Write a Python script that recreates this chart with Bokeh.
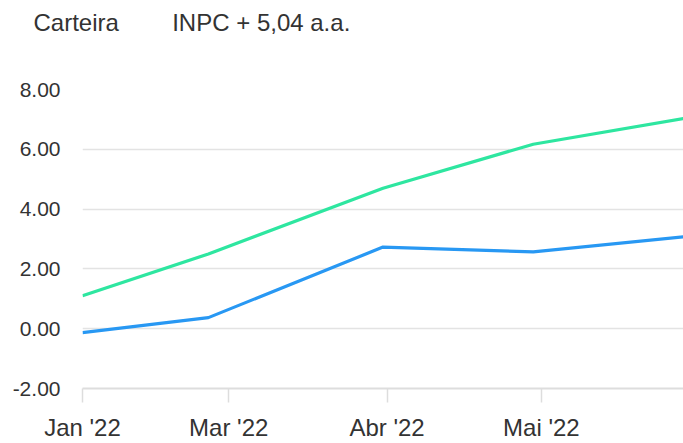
from bokeh.plotting import figure
from bokeh.models import Range1d, FixedTicker, NumeralTickFormatter, Title
from bokeh.embed import file_html
from bokeh.resources import INLINE

# Data (x: days since start of series)
dias = [0, 31, 74, 111, 148]
carteira = [-0.13, 0.37, 2.73, 2.57, 3.07]
inpc = [1.10, 2.50, 4.70, 6.17, 7.03]

x_tick_pos = [0, 36, 75, 113]
x_tick_labels = ["Jan '22", "Mar '22", "Abr '22", "Mai '22"]
y_ticks = [-2, 0, 2, 4, 6, 8]
series_names = ["Carteira", "INPC + 5,04 a.a."]

FONT = "Liberation Sans"
TXT = "#333333"

p = figure(width=683, height=443, output_backend="svg", toolbar_location=None,
           x_range=Range1d(0, 148), y_range=Range1d(-2, 8),
           min_border_left=82, min_border_right=0, min_border_top=89,
           min_border_bottom=54)
p.outline_line_color = None
p.background_fill_color = "white"
p.border_fill_color = "white"

p.line(dias, inpc, line_color="#2ee6a0", line_width=3.2)
p.line(dias, carteira, line_color="#2898f3", line_width=3.2)

# y axis
p.yaxis.ticker = FixedTicker(ticks=y_ticks)
p.yaxis.formatter = NumeralTickFormatter(format="0.00")
p.yaxis.axis_line_color = None
p.yaxis.major_tick_line_color = None
p.yaxis.major_tick_out = 0
p.yaxis.major_tick_in = 0
p.yaxis.minor_tick_line_color = None
p.yaxis.major_label_standoff = 22
p.yaxis.major_label_text_font = FONT
p.yaxis.major_label_text_font_size = "21px"
p.yaxis.major_label_text_color = TXT
p.ygrid.grid_line_color = "#e3e3e3"
p.ygrid.grid_line_width = 1.5
p.xgrid.grid_line_color = None

# x axis
p.xaxis.ticker = FixedTicker(ticks=x_tick_pos)
p.xaxis.major_label_overrides = {t: l for t, l in zip(x_tick_pos, x_tick_labels)}
p.xaxis.axis_line_color = "#dddddd"
p.xaxis.axis_line_width = 2
p.xaxis.major_tick_line_color = "#dddddd"
p.xaxis.major_tick_line_width = 1.5
p.xaxis.major_tick_in = 0
p.xaxis.major_tick_out = 14
p.xaxis.minor_tick_line_color = None
p.xaxis.major_label_standoff = 11
p.xaxis.major_label_text_font = FONT
p.xaxis.major_label_text_font_size = "24px"
p.xaxis.major_label_text_color = TXT

# spacer between header and plot frame
p.add_layout(Title(text="\u00a0", text_font_size="10px", standoff=31,
                   text_color="white"), "above")
# series names, drawn as a text-only header above the plot
gap = "\u00a0" * 8
p.add_layout(Title(text=series_names[0] + gap + series_names[1], align="left",
                   vertical_align="top", offset=-49, standoff=16,
                   text_font=FONT, text_font_size="24px",
                   text_font_style="normal", text_color=TXT), "above")

open("out.html", "w").write(file_html(p, INLINE))
